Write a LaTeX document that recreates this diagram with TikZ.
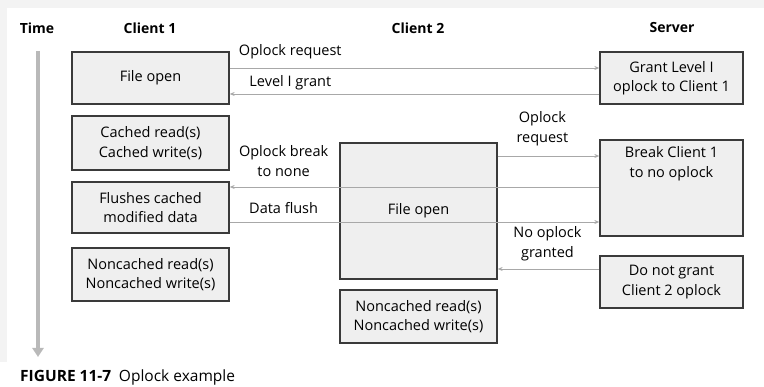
\documentclass[tikz,border=0pt]{standalone}
\usepackage{fontspec}
\setmainfont{Open Sans}
\usetikzlibrary{arrows.meta}
\definecolor{boxfill}{HTML}{EFEFEF}
\definecolor{boxline}{HTML}{3A3A3A}
\definecolor{msgline}{HTML}{A8A8A8}
\definecolor{bandgray}{HTML}{F3F3F3}
\tikzset{
  box/.style={draw=boxline, line width=1.3pt, fill=boxfill, align=center,
    font=\fontsize{14.5}{19.5}\selectfont, inner sep=0pt},
  msg/.style={draw=msgline, line width=0.9pt, -{Stealth[length=5pt,width=4pt]}},
  lbl/.style={align=center, font=\fontsize{14.5}{19.5}\selectfont, inner sep=2pt},
  head/.style={font=\fontsize{14}{17}\selectfont\bfseries}
}

\begin{document}
\begin{tikzpicture}[x=1pt,y=-1pt]
%
	\useasboundingbox (0,0) rectangle (764,387);
	\fill[bandgray] (0,0) rectangle (764,8);
	\fill[bandgray] (0,8) rectangle (7,362);
%
	\node[head] (time) at (37,28) {Time};
	\node[head] (cli1) at (150,28) {Client 1};
	\node[head] (cli2) at (418,28) {Client 2};
	\node[head] (srv) at (672,28) {Server};
%
	\coordinate (ttop) at (38,51);
	\coordinate (tend) at (38,357);
	\draw[line width=4pt, draw=msgline!80, -{Triangle[length=9pt,width=11pt]}] (ttop) -- (tend);
%
	\node[box, minimum width=157pt, minimum height=52pt] (c1open) at (150.5,78) {File open};
	\node[box, minimum width=157pt, minimum height=54pt] (c1cache) at (150.5,143) {Cached read(s)\\Cached write(s)};
	\node[box, minimum width=157pt, minimum height=51pt] (c1flush) at (150.5,207.5) {Flushes cached\\modified data};
	\node[box, minimum width=157pt, minimum height=53pt] (c1nocache) at (150.5,274.5) {Noncached read(s)\\Noncached write(s)};
%
	\node[box, minimum width=157pt, minimum height=136pt] (c2open) at (418.5,211) {File open};
	\node[box, minimum width=157pt, minimum height=53pt] (c2nocache) at (418.5,316.5) {Noncached read(s)\\Noncached write(s)};
%
	\node[box, minimum width=143pt, minimum height=52pt] (srvgrant) at (671.5,78) {Grant Level I\\oplock to Client 1};
	\node[box, minimum width=143pt, minimum height=96pt] (srvbreak) at (671.5,188) {};
	\node[lbl, anchor=north] (srvbreaktxt) at ([yshift=-5pt]srvbreak.north) {Break Client 1\\to no oplock};
	\node[box, minimum width=143pt, minimum height=52pt] (srvdeny) at (671.5,282) {Do not grant\\Client 2 oplock};
%
	\draw[msg] ([yshift=10pt]c1open.east) -- ([yshift=10pt]srvgrant.west)
		node[lbl, pos=0.164, above=7pt] {Oplock request};
	\draw[msg] ([yshift=-16pt]srvgrant.west) -- ([yshift=-16pt]c1open.east)
		node[lbl, pos=0.836, above=2pt] {Level I grant};
	\draw[msg] ([yshift=55pt]c2open.east) -- ([yshift=32pt]srvbreak.west)
		node[lbl, pos=0.44, above=8pt] {Oplock\\request};
	\draw[msg] ([yshift=1pt]srvbreak.west) -- ([yshift=20.5pt]c1flush.east)
		node[lbl, pos=0.854, above=8pt] {Oplock break\\to none};
	\draw[msg] ([yshift=-14.5pt]c1flush.east) -- ([yshift=-34pt]srvbreak.west)
		node[lbl, pos=0.146, above=6pt] {Data flush};
	\draw[msg] ([yshift=13pt]srvdeny.west) -- ([yshift=-58pt]c2open.east)
		node[lbl, pos=0.51, above=6pt] {No oplock\\granted};
%
	\node[anchor=west, font=\fontsize{15.5}{18}\selectfont, inner sep=0pt] (caption) at (20,377)
		{\textbf{FIGURE 11-7}\enspace Oplock example};
%
\end{tikzpicture}
\end{document}
